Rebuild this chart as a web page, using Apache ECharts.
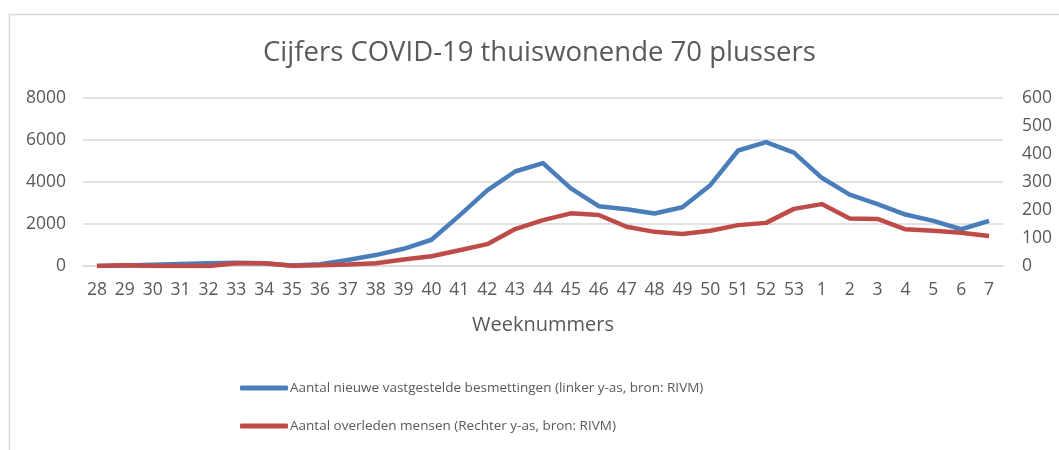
<!DOCTYPE html>
<html>
<head>
<meta charset="utf-8">
<script src="https://cdn.jsdelivr.net/npm/echarts@6/dist/echarts.min.js"></script>
<style>
  html, body { margin: 0; padding: 0; background: #fff; }
  #chart { width: 1059px; height: 450px; }
</style>
</head>
<body>
<div id="chart"></div>
<script>
// weeknummers (2020 wk 28 t/m 2021 wk 7)
var weeks = ['28','29','30','31','32','33','34','35','36','37','38','39','40','41','42','43','44',
  '45','46','47','48','49','50','51','52','53','1','2','3','4','5','6','7'];

// nieuwe besmettingen, linker y-as
var besmettingen = [0, 20, 60, 95, 130, 150, 130, 20, 80, 285, 520, 820, 1250, 2400, 3600, 4500, 4900,
  3700, 2850, 2700, 2500, 2800, 3850, 5500, 5900, 5400, 4200, 3400, 2950, 2450, 2150, 1750, 2150];

// overleden, rechter y-as
var overleden = [0, 3, 0, 0, 0, 10, 10, 1, 3, 5, 10, 23, 35, 56, 78, 132, 164,
  188, 182, 140, 122, 114, 126, 146, 154, 204, 221, 170, 168, 131, 126, 119, 107];

var fontFam = '"Open Sans", "Noto Sans", sans-serif';
var grey = '#595959';

var chart = echarts.init(document.getElementById('chart'));

chart.setOption({
  backgroundColor: '#fff',
  animation: false,
  textStyle: { fontFamily: fontFam },
  graphic: [{
    type: 'rect',
    shape: { x: 9.5, y: 14.5, width: 1100, height: 500 },
    style: { fill: null, stroke: '#d9d9d9', lineWidth: 1.5 },
    silent: true
  }],
  title: {
    text: 'Cijfers COVID-19 thuiswonende 70 plussers',
    left: 258,
    top: 34,
    textStyle: { fontFamily: fontFam, fontSize: 27.5, fontWeight: 'normal', color: grey }
  },
  legend: {
    orient: 'vertical',
    left: 235,
    top: 376,
    itemWidth: 48,
    itemHeight: 5,
    itemGap: 24,
    icon: 'roundRect',
    textStyle: { fontFamily: fontFam, fontSize: 13.5, color: grey, padding: [0, 0, 0, -3] },
    data: [
      'Aantal nieuwe vastgestelde besmettingen (linker y-as, bron: RIVM)',
      'Aantal overleden mensen (Rechter y-as, bron: RIVM)'
    ]
  },
  grid: { left: 83, right: 56, top: 98, bottom: 184 },
  xAxis: {
    type: 'category',
    data: weeks,
    boundaryGap: true,
    name: 'Weeknummers',
    nameLocation: 'middle',
    nameGap: 49,
    nameTextStyle: { fontFamily: fontFam, fontSize: 20, color: grey },
    axisLine: { lineStyle: { color: '#d9d9d9', width: 1.5 } },
    axisTick: { show: false },
    axisLabel: { fontFamily: fontFam, fontSize: 17.5, color: grey, margin: 15, interval: 0 }
  },
  yAxis: [{
    type: 'value',
    min: 0,
    max: 8000,
    interval: 2000,
    axisLine: { show: false },
    axisTick: { show: false },
    splitLine: { lineStyle: { color: '#d9d9d9', width: 1.5 } },
    axisLabel: {
      fontFamily: fontFam, fontSize: 17.5, color: grey, margin: 17,
      formatter: function (v) { return String(v); }
    }
  }, {
    type: 'value',
    min: 0,
    max: 600,
    interval: 100,
    axisLine: { show: false },
    axisTick: { show: false },
    splitLine: { show: false },
    axisLabel: { fontFamily: fontFam, fontSize: 17.5, color: grey, margin: 19 }
  }],
  series: [{
    name: 'Aantal nieuwe vastgestelde besmettingen (linker y-as, bron: RIVM)',
    type: 'line',
    yAxisIndex: 0,
    data: besmettingen,
    symbol: 'none',
    color: '#4a7ebb',
    lineStyle: { width: 4.5, color: '#4a7ebb', join: 'round' }
  }, {
    name: 'Aantal overleden mensen (Rechter y-as, bron: RIVM)',
    type: 'line',
    yAxisIndex: 1,
    data: overleden,
    symbol: 'none',
    color: '#be4b48',
    lineStyle: { width: 4.5, color: '#be4b48', join: 'round' }
  }]
});
</script>
</body>
</html>
